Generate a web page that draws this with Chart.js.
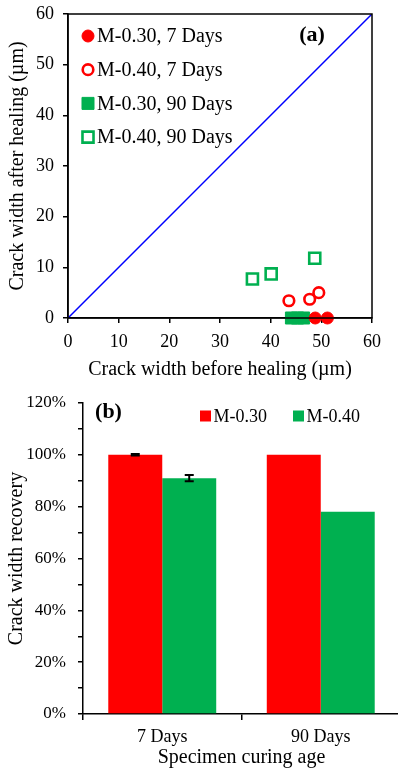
<!DOCTYPE html>
<html>
<head>
<meta charset="utf-8">
<script src="https://cdn.jsdelivr.net/npm/chart.js@4.4.1/dist/chart.umd.min.js"></script>
<style>
  html, body { margin: 0; background: #fff; overflow: hidden; }
  .panel { position: absolute; left: 0; }
</style>
</head>
<body>
<div class="panel" style="top:0"><canvas id="healChart" width="398" height="386"></canvas></div>
<div class="panel" style="top:386px"><canvas id="recoveryChart" width="400" height="383"></canvas></div>
<script>
// (a) crack width before / after healing, µm
const m030Day7Before = [48.8, 51.2];
const m030Day7After = [0, 0];
const m040Day7Before = [43.6, 47.7, 49.5];
const m040Day7After = [3.4, 3.7, 5.0];
const m030Day90Before = [44.1, 45.3, 46.5];
const m030Day90After = [0, 0, 0];
const m040Day90Before = [36.4, 40.1, 48.7];
const m040Day90After = [7.7, 8.7, 11.8];
const equalityX = [0, 60];
const equalityY = [0, 60];

// (b) crack width recovery, %
const curingAges = ['7 Days', '90 Days'];
const m030Recovery = [100, 100];
const m040Recovery = [91, 78];
const m030RecoveryErr = [0.3, 0];
const m040RecoveryErr = [1.2, 0];

const RED = '#FF0000';
const GREEN = '#00B050';
const FONT = "'Liberation Serif', 'Times New Roman', serif";

Chart.defaults.font.family = FONT;
Chart.defaults.color = '#000';

const toPoints = (xs, ys) => xs.map((x, i) => ({ x, y: ys[i] }));

const drawMarker = (ctx, ds, x, y, size) => {
  const lw = ds.borderWidth || 0;
  ctx.save();
  ctx.fillStyle = ds.backgroundColor;
  ctx.beginPath();
  if (ds.pointStyle === 'circle') {
    ctx.arc(x, y, ds.pointRadius, 0, Math.PI * 2);
  } else {
    const half = ds.pointStyle ? ds.pointRadius * Math.SQRT1_2 : size / 2;
    ctx.rect(x - half, y - half, half * 2, half * 2);
  }
  ctx.fill();
  if (lw > 0) {
    ctx.lineWidth = lw;
    ctx.strokeStyle = ds.borderColor;
    ctx.stroke();
  }
  ctx.restore();
};

// legend drawn inside the plot area
const markersLegend = {
  id: 'markersLegend',
  afterDraw(chart, args, opts) {
    const { ctx, chartArea } = chart;
    ctx.save();
    ctx.font = opts.font;
    ctx.textBaseline = 'middle';
    ctx.fillStyle = '#000';
    chart.data.datasets.forEach((ds, i) => {
      if (!ds.label) return;
      const x = chartArea.left + opts.x + i * (opts.dx || 0);
      const y = chartArea.top + opts.y + i * (opts.dy || 0);
      drawMarker(ctx, ds, x, y, opts.size);
      ctx.fillText(ds.label, x + opts.gap, y + 1);
    });
    ctx.restore();
  },
};

const panelTag = {
  id: 'panelTag',
  afterDraw(chart, args, opts) {
    const { ctx, chartArea } = chart;
    ctx.save();
    ctx.font = 'bold 22px ' + FONT;
    ctx.textAlign = 'center';
    ctx.textBaseline = 'middle';
    ctx.fillStyle = '#000';
    ctx.fillText(opts.text, chartArea.left + opts.x, chartArea.top + opts.y);
    ctx.restore();
  },
};

const plotFrame = {
  id: 'plotFrame',
  afterDraw(chart) {
    const { ctx, chartArea } = chart;
    ctx.save();
    ctx.strokeStyle = '#000';
    ctx.lineWidth = 1.5;
    ctx.strokeRect(chartArea.left, chartArea.top, chartArea.width, chartArea.height);
    ctx.restore();
  },
};

const errorBars = {
  id: 'errorBars',
  afterDatasetsDraw(chart, args, opts) {
    const { ctx } = chart;
    const yScale = chart.scales.y;
    ctx.save();
    ctx.strokeStyle = '#000';
    ctx.lineWidth = 2;
    opts.errors.forEach((errs, di) => {
      chart.getDatasetMeta(di).data.forEach((bar, j) => {
        const err = errs[j];
        if (!err) return;
        const v = chart.data.datasets[di].data[j];
        const top = yScale.getPixelForValue(v + err);
        const bot = yScale.getPixelForValue(v - err);
        ctx.beginPath();
        ctx.moveTo(bar.x, top);
        ctx.lineTo(bar.x, bot);
        ctx.moveTo(bar.x - 4.5, top);
        ctx.lineTo(bar.x + 4.5, top);
        ctx.moveTo(bar.x - 4.5, bot);
        ctx.lineTo(bar.x + 4.5, bot);
        ctx.stroke();
      });
    });
    ctx.restore();
  },
};

const axisLine = { color: '#000', width: 1.5 };
const tickMarks = (len) => ({ drawOnChartArea: false, tickLength: len, color: '#000', lineWidth: 1.5 });

// fixed axis size, no extra room for the end labels
const fixWidth = (w) => (scale) => {
  scale.width = w;
  scale.paddingTop = 0;
  scale.paddingBottom = 0;
};
const fixHeight = (h) => (scale) => {
  scale.height = h;
  scale.paddingLeft = 0;
  scale.paddingRight = 0;
};

new Chart(document.getElementById('healChart'), {
  type: 'scatter',
  data: {
    datasets: [
      {
        label: 'M-0.30, 7 Days',
        data: toPoints(m030Day7Before, m030Day7After),
        pointStyle: 'circle',
        pointRadius: 6,
        backgroundColor: RED,
        borderColor: RED,
        borderWidth: 1,
        clip: false,
      },
      {
        label: 'M-0.40, 7 Days',
        data: toPoints(m040Day7Before, m040Day7After),
        pointStyle: 'circle',
        pointRadius: 5.3,
        backgroundColor: 'rgba(0,0,0,0)',
        borderColor: RED,
        borderWidth: 2.6,
        clip: false,
      },
      {
        label: 'M-0.30, 90 Days',
        data: toPoints(m030Day90Before, m030Day90After),
        pointStyle: 'rect',
        pointRadius: 8.5,
        backgroundColor: GREEN,
        borderColor: GREEN,
        borderWidth: 1,
        clip: false,
      },
      {
        label: 'M-0.40, 90 Days',
        data: toPoints(m040Day90Before, m040Day90After),
        pointStyle: 'rect',
        pointRadius: 7.8,
        backgroundColor: 'rgba(0,0,0,0)',
        borderColor: GREEN,
        borderWidth: 2.6,
        clip: false,
      },
      {
        label: '',
        data: toPoints(equalityX, equalityY),
        showLine: true,
        borderColor: '#0000FF',
        borderWidth: 1.5,
        pointRadius: 0,
      },
    ],
  },
  options: {
    responsive: false,
    animation: false,
    layout: { padding: { top: 14, right: 26, left: 0, bottom: 0 } },
    scales: {
      x: {
        type: 'linear',
        min: 0,
        max: 60,
        ticks: { stepSize: 10, font: { size: 18 }, padding: 8, color: '#000' },
        grid: tickMarks(5),
        border: axisLine,
        title: {
          display: true,
          text: 'Crack width before healing (µm)',
          font: { size: 20 },
          color: '#000',
          padding: { top: 0, bottom: 4 },
        },
        afterFit: fixHeight(68),
      },
      y: {
        min: 0,
        max: 60,
        ticks: { stepSize: 10, font: { size: 18 }, padding: 9, color: '#000' },
        grid: tickMarks(5),
        border: axisLine,
        title: {
          display: true,
          text: 'Crack width after healing (µm)',
          font: { size: 20 },
          color: '#000',
          padding: { top: 6, bottom: 0 },
        },
        afterFit: fixWidth(68),
      },
    },
    plugins: {
      legend: { display: false },
      tooltip: { enabled: false },
      markersLegend: { x: 20, y: 22, dy: 33.7, gap: 9, font: '20px ' + FONT },
      panelTag: { text: '(a)', x: 244, y: 21 },
    },
  },
  plugins: [plotFrame, markersLegend, panelTag],
});

new Chart(document.getElementById('recoveryChart'), {
  type: 'bar',
  data: {
    labels: curingAges,
    datasets: [
      { label: 'M-0.30', data: m030Recovery, backgroundColor: RED },
      { label: 'M-0.40', data: m040Recovery, backgroundColor: GREEN },
    ],
  },
  options: {
    responsive: false,
    animation: false,
    datasets: { bar: { categoryPercentage: 0.681, barPercentage: 1 } },
    layout: { padding: { top: 17, right: 0, left: 0, bottom: 0 } },
    scales: {
      x: {
        ticks: { font: { size: 18 }, padding: 6, color: '#000' },
        grid: { ...tickMarks(6), offset: true },
        border: axisLine,
        title: {
          display: true,
          text: 'Specimen curing age',
          font: { size: 20, lineHeight: 1.1 },
          color: '#000',
          padding: { top: 0, bottom: 0 },
        },
        afterFit: fixHeight(55),
      },
      y: {
        min: 0,
        max: 120,
        ticks: {
          stepSize: 10,
          font: { size: 17 },
          padding: 12,
          color: '#000',
          callback: (v) => (v % 20 ? '' : v + '%'),
        },
        grid: tickMarks(5),
        border: axisLine,
        title: {
          display: true,
          text: 'Crack width recovery',
          font: { size: 20 },
          color: '#000',
          padding: { top: 5, bottom: 0 },
        },
        afterFit: fixWidth(83),
      },
    },
    plugins: {
      legend: { display: false },
      tooltip: { enabled: false },
      markersLegend: { x: 122.5, y: 13, dx: 93, gap: 8, size: 11, font: '18px ' + FONT },
      panelTag: { text: '(b)', x: 25.5, y: 9 },
      errorBars: { errors: [m030RecoveryErr, m040RecoveryErr] },
    },
  },
  plugins: [errorBars, markersLegend, panelTag],
});
</script>
</body>
</html>
